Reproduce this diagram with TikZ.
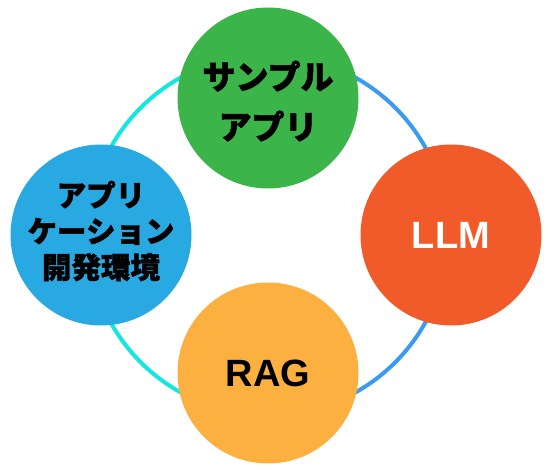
\documentclass[tikz,border=0pt]{standalone}
\usepackage{fontspec}
\setmainfont{Liberation Sans}
\newfontfamily\cjk{Noto Sans CJK JP}[BoldFeatures={FakeBold=1.5}]
\definecolor{cgreen}{HTML}{3BB54A}
\definecolor{corange}{HTML}{F15A29}
\definecolor{cyellow}{HTML}{FBB040}
\definecolor{cblue}{HTML}{29A9E1}
\definecolor{ringcyan}{HTML}{12E8E0}
\definecolor{ringblue}{HTML}{3A9BF5}
\begin{document}
\begin{tikzpicture}[x=1pt,y=1pt,
  bubble/.style={circle,minimum size=181pt,inner sep=0pt},
  label/.style={align=center,inner sep=0pt},
  ringline/.style={line width=4pt}]
\useasboundingbox (0,0) rectangle (551,471);
\coordinate (c) at (268,236);
\draw[ringline,ringcyan] ([yshift=180pt]c) arc[start angle=90,end angle=270,radius=180];
\draw[ringline,ringblue] ([yshift=180pt]c) arc[start angle=90,end angle=-90,radius=180];
\node[bubble,fill=cgreen] (sample) at (268,373) {};
\node[bubble,fill=corange] (llm) at (451,236) {};
\node[bubble,fill=cyellow] (rag) at (268,98) {};
\node[bubble,fill=cblue] (env) at (101,236) {};
\node[label,font=\cjk\bfseries\fontsize{33}{50}\selectfont] (sampletxt) at ([yshift=-3pt]sample.center) {サンプル\\アプリ};
\node[label,text=white,font=\bfseries\fontsize{38}{40}\selectfont] (llmtxt) at (llm.center) {LLM};
\node[label,font=\bfseries\fontsize{38}{40}\selectfont] (ragtxt) at (rag.center) {RAG};
\node[label,font=\cjk\bfseries\fontsize{29.5}{36}\selectfont] (envtxt) at ([yshift=4pt]env.center) {アプリ\\ケーション\\開発環境};
\end{tikzpicture}
\end{document}
